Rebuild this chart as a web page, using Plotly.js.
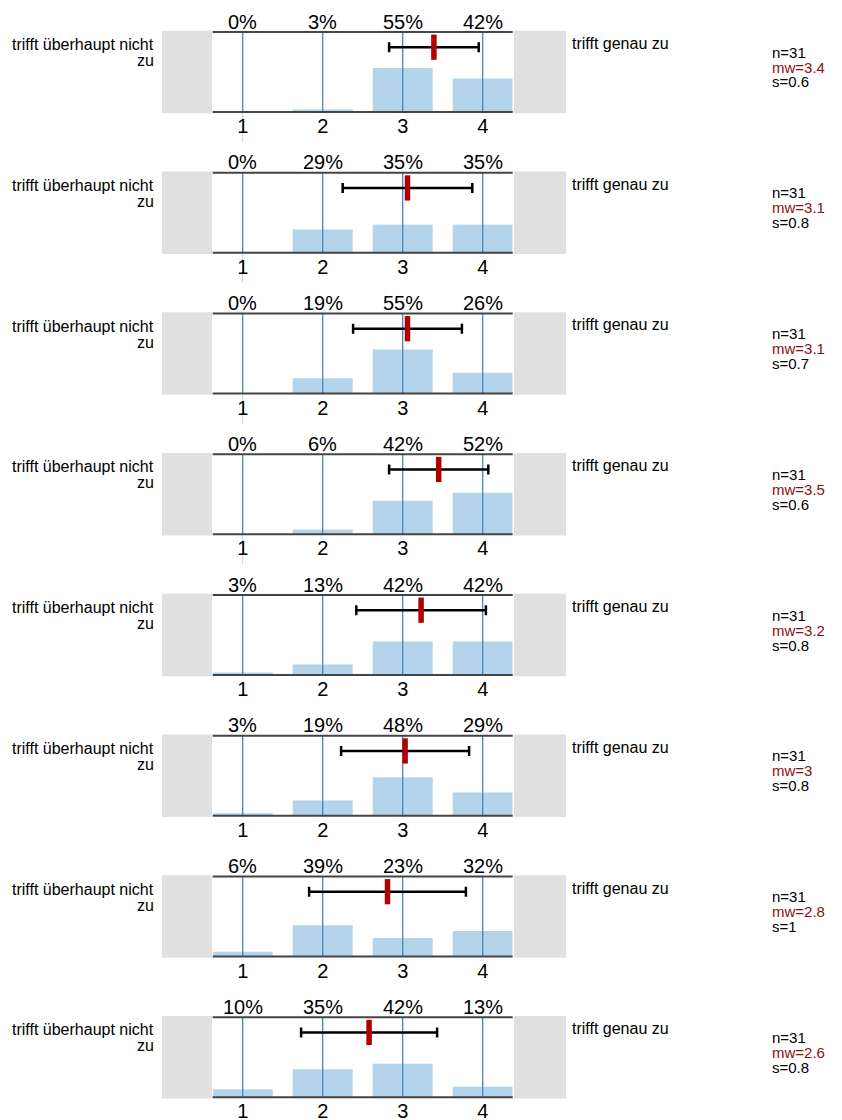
<!DOCTYPE html>
<html>
<head>
<meta charset="utf-8">
<script src="https://cdn.plot.ly/plotly-3.0.1.min.js"></script>
<style>body{margin:0;padding:0;background:#fff;} #chart{width:842px;height:1120px;}</style>
</head>
<body>
<div id="chart"></div>
<script>
// ---- data ----
const categories = [1, 2, 3, 4];
const tickLabels = ['1', '2', '3', '4'];
const p1 = [0, 3, 55, 42];
const p2 = [0, 29, 35, 35];
const p3 = [0, 19, 55, 26];
const p4 = [0, 6, 42, 52];
const p5 = [3, 13, 42, 42];
const p6 = [3, 19, 48, 29];
const p7 = [6, 39, 23, 32];
const p8 = [10, 35, 42, 13];
const means = [3.39, 3.06, 3.06, 3.45, 3.23, 3.03, 2.81, 2.58];
const sds = [0.56, 0.81, 0.68, 0.62, 0.81, 0.80, 0.98, 0.85];
const nLabels = ['n=31', 'n=31', 'n=31', 'n=31', 'n=31', 'n=31', 'n=31', 'n=31'];
const mwLabels = ['mw=3.4', 'mw=3.1', 'mw=3.1', 'mw=3.5', 'mw=3.2', 'mw=3', 'mw=2.8', 'mw=2.6'];
const sLabels = ['s=0.6', 's=0.8', 's=0.7', 's=0.6', 's=0.8', 's=0.8', 's=1', 's=0.8'];
const leftLabel1 = 'trifft überhaupt nicht';
const leftLabel2 = 'zu';
const rightLabel = 'trifft genau zu';
const errLevel = 81; // vertical position of mean/sd bar (in % scale)

// ---- layout constants ----
const W = 842, H = 1120;
const FONT = 'Liberation Sans, Arial, Helvetica, sans-serif';
const pcts = [p1, p2, p3, p4, p5, p6, p7, p8];
const yP = px => 1 - px / H;
const xP = px => px / W;
const period = 140.75, firstTop = 32, panelH = 80;
const xL = 212.7, xR = 512.7;

const data = [];
const shapes = [];
const annotations = [];
const layout = {
  width: W, height: H,
  margin: {l: 0, r: 0, t: 0, b: 0},
  paper_bgcolor: '#fff', plot_bgcolor: 'rgba(0,0,0,0)',
  showlegend: false,
  font: {family: FONT, color: '#000'},
  shapes: shapes, annotations: annotations
};

pcts.forEach((vals, i) => {
  const k = i + 1;
  const xa = k === 1 ? 'x' : 'x' + k;
  const ya = k === 1 ? 'y' : 'y' + k;
  const top = firstTop + period * i;
  const bottom = top + panelH;

  layout['xaxis' + (k === 1 ? '' : k)] = {
    domain: [xP(xL), xP(xR)], range: [0.625, 4.375], anchor: ya,
    showgrid: false, zeroline: false, showline: false, ticks: '',
    tickvals: categories, ticktext: tickLabels,
    tickfont: {size: 20, family: FONT, color: '#000'}, fixedrange: true
  };
  layout['yaxis' + (k === 1 ? '' : k)] = {
    domain: [yP(bottom), yP(top)], range: [0, 100], anchor: xa,
    visible: false, fixedrange: true
  };

  // bars
  data.push({
    type: 'bar', x: categories, y: vals, xaxis: xa, yaxis: ya,
    width: 0.75, marker: {color: '#b4d4ec', line: {width: 0}},
    hoverinfo: 'skip'
  });
  // vertical blue lines at each category
  const vx = [], vy = [];
  categories.forEach(c => { vx.push(c, c, null); vy.push(0, 100, null); });
  data.push({
    type: 'scatter', mode: 'lines', x: vx, y: vy, xaxis: xa, yaxis: ya,
    line: {color: '#4683c2', width: 1.3}, hoverinfo: 'skip', cliponaxis: false
  });
  // mean +- sd
  data.push({
    type: 'scatter', mode: 'markers', x: [means[i]], y: [errLevel], xaxis: xa, yaxis: ya,
    error_x: {type: 'data', array: [sds[i]], visible: true, color: '#000', thickness: 2.5, width: 5},
    marker: {symbol: 'line-ns', size: 18, color: '#b00000', line: {color: '#b00000', width: 5.5}},
    hoverinfo: 'skip', cliponaxis: false
  });

  // top & bottom lines
  [1, 0].forEach(yv => shapes.push({
    type: 'line', xref: xa + ' domain', yref: ya + ' domain',
    x0: 0, x1: 1, y0: yv, y1: yv, line: {color: '#444', width: 2}, layer: 'above'
  }));
  // grey side boxes
  shapes.push({type: 'rect', xref: 'paper', yref: 'paper', x0: xP(162), x1: xP(212), y0: yP(bottom + 1.3), y1: yP(top - 1.3),
    fillcolor: '#e0e0e0', line: {width: 0}, layer: 'below'});
  shapes.push({type: 'rect', xref: 'paper', yref: 'paper', x0: xP(514), x1: xP(566), y0: yP(bottom + 1.3), y1: yP(top - 1.3),
    fillcolor: '#e0e0e0', line: {width: 0}, layer: 'below'});
  if (i < 4) {
    shapes.push({type: 'line', xref: xa, yref: 'paper', x0: 1, x1: 1, y0: yP(bottom), y1: yP(bottom + 30),
      line: {color: '#bcd6ee', width: 1}, layer: 'below'});
  }

  // percentage labels
  vals.forEach((v, j) => annotations.push({
    xref: xa, yref: 'paper', x: categories[j], y: yP(top + 2.5), yanchor: 'bottom', xanchor: 'center',
    text: v + '%', showarrow: false, font: {size: 20, family: FONT, color: '#000'}
  }));
  // side labels
  annotations.push({xref: 'paper', yref: 'paper', x: xP(155.5), y: yP(top + 12.5), xanchor: 'right', yanchor: 'middle',
    text: leftLabel1, showarrow: false, font: {size: 16, family: FONT, color: '#000'}});
  annotations.push({xref: 'paper', yref: 'paper', x: xP(155.5), y: yP(top + 28.5), xanchor: 'right', yanchor: 'middle',
    text: leftLabel2, showarrow: false, font: {size: 16, family: FONT, color: '#000'}});
  annotations.push({xref: 'paper', yref: 'paper', x: xP(570), y: yP(top + 11.5), xanchor: 'left', yanchor: 'middle',
    text: rightLabel, showarrow: false, font: {size: 16, family: FONT, color: '#000'}});
  // stats
  [[nLabels[i], '#000', 20], [mwLabels[i], '#8b0f0f', 35], [sLabels[i], '#000', 50]].forEach(([t, c, dy]) =>
    annotations.push({xref: 'paper', yref: 'paper', x: xP(770), y: yP(top + dy), xanchor: 'left', yanchor: 'middle',
      text: t, showarrow: false, font: {size: 15, family: FONT, color: c}}));
});

Plotly.newPlot('chart', data, layout, {staticPlot: true, displayModeBar: false});
</script>
</body>
</html>
